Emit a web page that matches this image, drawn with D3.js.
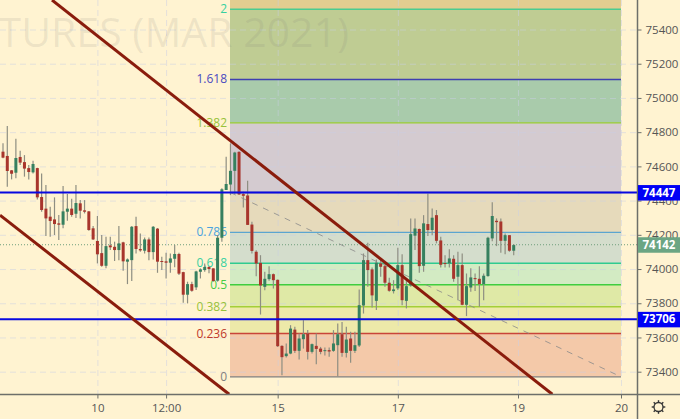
<!DOCTYPE html>
<html><head><meta charset="utf-8">
<script src="https://cdn.jsdelivr.net/npm/d3@7/dist/d3.min.js"></script>
<style>html,body{margin:0;padding:0;background:#fff3d1;overflow:hidden}svg{display:block}text{font-family:"Open Sans","Noto Sans",sans-serif}</style>
</head><body><svg id="c" width="680" height="419"></svg>
<script>
const opens=[74686,74661,74577,74563,74655,74625,74590,74565,74590,74421,74353,74306,74290,74267,74259,74335,74353,74323,74384,74343,74337,74238,74164,74093,74019,74138,74130,74111,74156,74043,74052,74251,74117,74107,74173,74099,74236,74047,74045,74037,74060,74088,73982,73850,73912,73893,73984,73994,74012,74004,73932,74183,74462,74494,74574,74685,74438,74430,74260,74101,74036,73896,73941,73970,73937,73551,73491,73506,73646,73522,73590,73623,73516,73551,73535,73522,73526,73522,73555,73619,73510,73594,73522,73553,73787,74052,73998,73814,74033,74017,73920,73871,73887,74023,73814,73904,74195,74234,74019,74263,74228,74315,74167,74035,74033,74060,73955,74023,73791,73892,73947,73943,73912,73959,74179,74282,74278,74165,74198,74107];
const closes=[74651,74573,74557,74649,74622,74587,74567,74614,74419,74345,74296,74281,74263,74259,74337,74353,74316,74386,74341,74335,74228,74173,74086,74019,74134,74127,74111,74150,74045,74056,74247,74117,74109,74173,74099,74247,74043,74043,74037,74062,74088,73973,73850,73912,73873,73986,73998,74012,74000,73930,74183,74466,74497,74574,74681,74436,74428,74258,74106,74032,73904,73943,73970,73935,73549,73485,73506,73652,73522,73594,73619,73516,73561,73533,73516,73526,73518,73565,73619,73510,73588,73522,73555,73789,74052,73994,73846,74037,74013,73920,73873,73881,74023,73818,73900,74204,74237,74017,74267,74228,74300,74165,74025,74031,74062,73943,74023,73791,73900,73951,73941,73912,73961,74183,74310,74274,74165,74198,74107,74140];
const highs=[74735,74836,74579,74762,74692,74666,74608,74633,74592,74559,74491,74364,74419,74316,74485,74438,74411,74491,74403,74403,74339,74251,74310,74199,74189,74189,74160,74251,74160,74062,74251,74306,74208,74185,74185,74251,74240,74072,74095,74091,74140,74095,73984,73926,73926,73990,74004,74033,74017,74004,74199,74472,74657,74734,74685,74689,74451,74516,74276,74110,74081,73984,74017,73974,73939,73555,73565,73672,73662,73623,73701,73643,73565,73623,73545,73541,73541,73643,73682,73691,73662,73633,73633,73880,74091,74154,74009,74056,74056,74033,73949,73935,74124,74087,73935,74296,74296,74237,74315,74442,74354,74345,74189,74081,74115,74081,74101,74091,73974,74004,73974,74017,73974,74189,74391,74296,74296,74208,74198,74146];
const lows=[74647,74481,74524,74530,74608,74540,74524,74559,74407,74335,74193,74189,74199,74169,74238,74282,74306,74298,74296,74325,74224,74169,74033,74013,74004,74111,74047,74052,73990,73912,73930,74091,74101,74091,74052,74056,73978,73994,73945,73978,74010,73965,73803,73799,73867,73877,73945,73984,73975,73926,73926,74160,74462,74432,74438,74432,74360,74257,74091,73958,73734,73876,73931,73886,73545,73379,73483,73502,73510,73471,73535,73471,73506,73444,73502,73494,73487,73516,73374,73487,73483,73452,73510,73545,73740,73896,73775,73760,73955,73896,73867,73857,73877,73789,73770,73896,74111,73978,73984,74193,74198,74150,74009,74009,74009,73926,73818,73789,73725,73867,73871,73779,73818,73955,74163,74134,74095,74087,74101,74081];
const priceTicks=[73400,73600,73800,74000,74200,74400,74600,74800,75000,75200,75400];
const timeTicks=[22,38,64,92,120,144];
const timeLabels=["10","12:00","15","17","19","20"];
const fibRatios=[0,0.236,0.382,0.5,0.618,0.786,1,1.382,1.618,2];
const fibPrices=[73370,73623,73780,73908,74034,74214,74447,74854,75108,75518];
const fibColors=["#808080","#c8453a","#a4cf38","#3fce3f","#2ecb90","#5ba5d0","#808080","#9acd32","#3f3fb0","#4ccb90"];
const fibLabelColors=["#808080","#c0392b","#98c23a","#45cc45","#38d0a0","#4aa3df","#808080","#98c23a","#4a4ac0","#38d0a0"];
const fibFills=["#f4c9a9","#ede9a9","#dfe9a6","#d3ebc3","#d4ddcc","#e6dabb","#d4cbd0","#a9cbab","#bfcc93","#e3cd90"];
const hLevels=[74447,73706];
const lastPrice=74142;
const trendA=[[11.42,75572],[128,73268]];
const trendB=[[-0.7,74315],[52.7,73268]];
const fibDiag=[[53,74447],[144,73370]];

const svg=d3.select("#c");
const x=d3.scaleLinear().domain([0,144]).range([3,621]);
const y=d3.scaleLinear().domain([73400,75400]).range([371.7,29.5]);
const W=637, H=394;
svg.append("defs").append("clipPath").attr("id","pane").append("rect").attr("width",W).attr("height",H);
svg.append("rect").attr("width",680).attr("height",419).attr("fill","#fff3d1");
const pane=svg.append("g").attr("clip-path","url(#pane)");
const fibX0=230;
fibPrices.forEach((p,i)=>{
  const top=i<fibPrices.length-1?y(fibPrices[i+1]):0;
  pane.append("rect").attr("x",fibX0).attr("width",x(144)-fibX0).attr("y",top).attr("height",y(p)-top).attr("fill",fibFills[i]);
});
pane.append("g").selectAll("line").data(priceTicks).join("line")
 .attr("x1",0).attr("x2",W).attr("y1",d=>y(d)+.5).attr("y2",d=>y(d)+.5)
 .attr("stroke","#c9d0e6").attr("stroke-opacity",.5).attr("stroke-dasharray","6 4");
pane.append("g").selectAll("line").data(timeTicks).join("line")
 .attr("y1",0).attr("y2",H).attr("x1",d=>x(d)+.5).attr("x2",d=>x(d)+.5)
 .attr("stroke","#c9d0e6").attr("stroke-opacity",.5).attr("stroke-dasharray","6 4");
pane.append("text").attr("x",349).attr("y",47).attr("text-anchor","end").attr("font-size",41)
 .attr("fill","#787878").attr("fill-opacity",.13).text("FUTURES (MAR 2021)");
pane.append("g").selectAll("line").data(fibPrices).join("line")
 .attr("x1",fibX0).attr("x2",x(144)).attr("y1",d=>y(d)).attr("y2",d=>y(d))
 .attr("stroke",(d,i)=>fibColors[i]).attr("stroke-width",1.4);
pane.append("g").selectAll("text").data(fibPrices).join("text")
 .attr("x",227).attr("y",d=>y(d)+4).attr("text-anchor","end").attr("font-size",12)
 .attr("fill",(d,i)=>fibLabelColors[i]).text((d,i)=>fibRatios[i]===1?"":fibRatios[i]);
pane.append("line").attr("x1",0).attr("x2",W).attr("y1",y(lastPrice)).attr("y2",y(lastPrice))
 .attr("stroke","#6f9f7c").attr("stroke-dasharray","1 2");
const ln=d3.line().x(d=>x(d[0])).y(d=>y(d[1]));
pane.append("path").attr("d",ln(fibDiag)).attr("fill","none").attr("stroke","#8a8a8a").attr("stroke-opacity",.8).attr("stroke-dasharray","6 6");
const idx=d3.range(opens.length);
pane.append("g").selectAll("line").data(idx).join("line")
 .attr("x1",i=>x(i)).attr("x2",i=>x(i)).attr("y1",i=>y(highs[i])).attr("y2",i=>y(lows[i]))
 .attr("stroke","#8e8e82").attr("stroke-width",1.2);
pane.append("g").selectAll("rect").data(idx).join("rect")
 .attr("x",i=>x(i)-1.5).attr("width",3)
 .attr("y",i=>y(Math.max(opens[i],closes[i])))
 .attr("height",i=>Math.max(1,Math.abs(y(opens[i])-y(closes[i]))))
 .attr("fill",i=>closes[i]>=opens[i]?"#36805f":"#a8352c");
pane.append("g").selectAll("line").data(hLevels).join("line")
 .attr("x1",0).attr("x2",W).attr("y1",d=>y(d)).attr("y2",d=>y(d)).attr("stroke","#0808e0").attr("stroke-width",2);
[trendA,trendB].forEach(t=>pane.append("path").attr("d",ln(t)).attr("fill","none").attr("stroke","#8a1c0c").attr("stroke-width",3));
const ay=d3.axisRight(y).tickValues(priceTicks).tickSize(4).tickPadding(4).tickFormat(d3.format("d"));
const gy=svg.append("g").attr("transform",`translate(${W+.5},0)`).call(ay);
gy.select(".domain").remove();
gy.selectAll("line").attr("stroke","#6d6f6a");
gy.selectAll("text").attr("font-size",11.5).attr("fill","#555");
const ax=d3.axisBottom(x).tickValues(timeTicks).tickSize(4).tickPadding(5).tickFormat((d,i)=>timeLabels[i]);
const gx=svg.append("g").attr("transform",`translate(0,${H+.5})`).call(ax);
gx.select(".domain").remove();
gx.selectAll("line").attr("stroke","#6d6f6a");
gx.selectAll("text").attr("font-size",11.5).attr("fill","#555");
svg.append("line").attr("x1",W+.5).attr("x2",W+.5).attr("y1",0).attr("y2",419).attr("stroke","#6d6f6a").attr("stroke-width",1.5);
svg.append("line").attr("x1",0).attr("x2",680).attr("y1",H+.5).attr("y2",H+.5).attr("stroke","#6d6f6a").attr("stroke-width",1.5);
const tags=[[74447,"#0000f5"],[73706,"#0000f5"],[lastPrice,"#6ba583"]];
tags.forEach(([p,c])=>{
  const g=svg.append("g").attr("transform",`translate(${W+1},${y(p)})`);
  g.append("rect").attr("y",-7.5).attr("width",42).attr("height",15.5).attr("fill",c);
  g.append("text").attr("x",21).attr("y",4).attr("text-anchor","middle").attr("font-size",11.5).attr("font-weight",700).attr("fill","#fff").text(p);
});
const gear=svg.append("g").attr("transform","translate(658.5,407)").attr("fill","none").attr("stroke","#333");
gear.append("circle").attr("r",4.5).attr("stroke-width",1.3);
d3.range(8).forEach(k=>{const a=k*Math.PI/4;gear.append("line").attr("x1",4.5*Math.cos(a)).attr("y1",4.5*Math.sin(a)).attr("x2",6.8*Math.cos(a)).attr("y2",6.8*Math.sin(a)).attr("stroke-width",1.4)});
</script></body></html>
